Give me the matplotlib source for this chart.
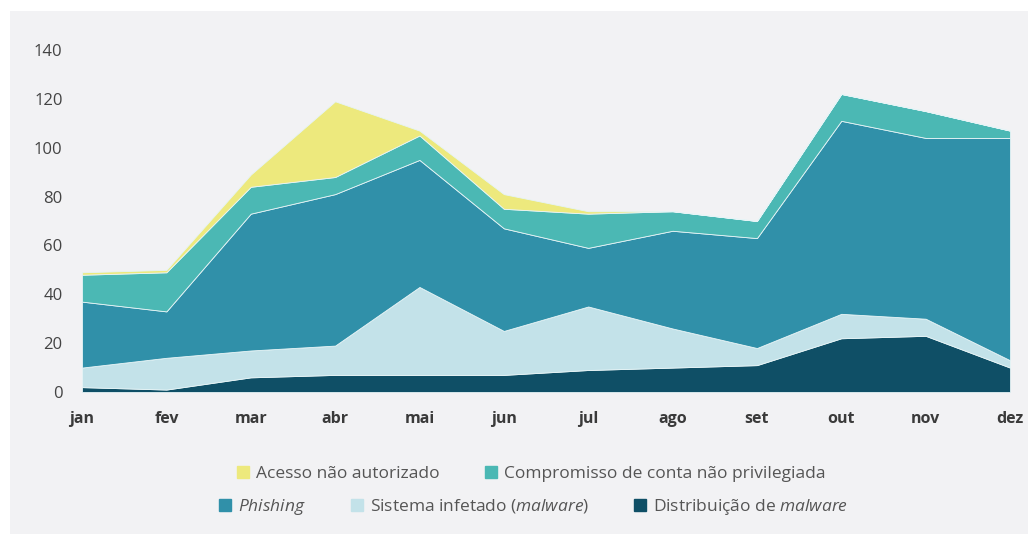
import matplotlib
matplotlib.use("Agg")
import matplotlib.pyplot as plt
from matplotlib.patches import Patch, Rectangle

plt.rcParams["font.family"] = ["Open Sans", "DejaVu Sans"]
plt.rcParams["mathtext.fontset"] = "custom"
plt.rcParams["mathtext.it"] = "Open Sans:italic"
plt.rcParams["mathtext.rm"] = "Open Sans"

MONTHS = ["jan", "fev", "mar", "abr", "mai", "jun", "jul", "ago", "set", "out", "nov", "dez"]

# stacked from bottom to top
distribuicao = [2, 1, 6, 7, 7, 7, 9, 10, 11, 22, 23, 10]
sistema = [8, 13, 11, 12, 36, 18, 26, 16, 7, 10, 7, 3]
phishing = [27, 19, 56, 62, 52, 42, 24, 40, 45, 79, 74, 91]
compromisso = [11, 16, 11, 7, 10, 8, 14, 8, 7, 11, 11, 3]
acesso = [1, 1, 5, 31, 2, 6, 1, 0, 0, 0, 0, 0]

LABELS = ["Distribuição de $\\it{malware}$", "Sistema infetado ($\\it{malware}$)", "$\\it{Phishing}$",
          "Compromisso de conta não privilegiada", "Acesso não autorizado"]
COLORS = ["#0f4f66", "#c3e2e9", "#3090a9", "#4bb8b4", "#ede97d"]

fig = plt.figure(figsize=(10.28, 5.34), dpi=100, facecolor="white")
#light grey panel behind chart
fig.patches.append(Rectangle((0.01, 0.0), 0.99, 0.98, transform=fig.transFigure, facecolor="#f2f2f4", edgecolor="none", zorder=-5))

ax = fig.add_axes([0.0798, 0.2659, 0.9027, 0.6405])
ax.set_facecolor("none")
x = list(range(len(MONTHS)))
ax.stackplot(x, distribuicao, sistema, phishing, compromisso, acesso, colors=COLORS, linewidth=0.6, edgecolor="#e6f4f6")

ax.set_xlim(0, len(MONTHS) - 1)
ax.set_ylim(0, 140)
ax.set_yticks(range(0, 141, 20))
ax.set_xticks(x)
ax.set_xticklabels(MONTHS, fontsize=11.5, fontweight="bold", color="#3a3a3a")
ax.tick_params(axis="y", labelsize=12, labelcolor="#444444", length=0, pad=14)
ax.tick_params(axis="x", length=0, pad=14)
for spine in ax.spines.values():
    spine.set_visible(False)

#legend in two centred rows
handles = [Patch(color=c, label=l) for c, l in zip(COLORS, LABELS)]
fig.legend(handles=[handles[4], handles[3]], loc="center", bbox_to_anchor=(0.517, 0.112), ncol=2, frameon=False,
           fontsize=12.5, handlelength=0.7, handleheight=0.7, columnspacing=2.6, handletextpad=0.4, labelcolor="#555555")
fig.legend(handles=[handles[2], handles[1], handles[0]], loc="center", bbox_to_anchor=(0.519, 0.051), ncol=3, frameon=False,
           fontsize=12.5, handlelength=0.7, handleheight=0.7, columnspacing=2.6, handletextpad=0.4, labelcolor="#555555")

fig.savefig("out.png", dpi=100, facecolor=fig.get_facecolor())
